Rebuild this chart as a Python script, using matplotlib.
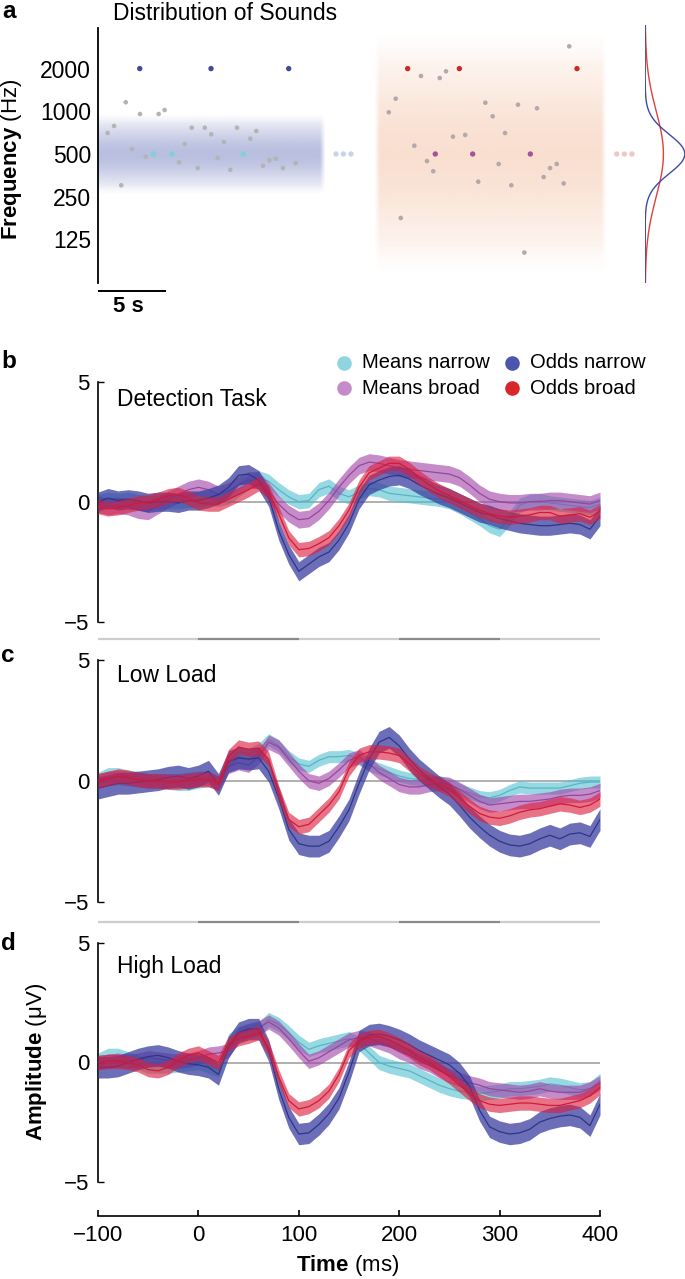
import numpy as np
import matplotlib
matplotlib.use('Agg')
import matplotlib.pyplot as plt
from matplotlib import font_manager
from matplotlib.lines import Line2D
from matplotlib.transforms import blended_transform_factory

_names = {f.name for f in font_manager.fontManager.ttflist}
FONT = 'Liberation Sans' if 'Liberation Sans' in _names else 'DejaVu Sans'
plt.rcParams['font.family'] = [FONT, 'DejaVu Sans']
plt.rcParams['mathtext.fontset'] = 'custom'
plt.rcParams['mathtext.rm'] = FONT
plt.rcParams['mathtext.bf'] = FONT + ':bold'
plt.rcParams['axes.unicode_minus'] = True

# ------------------------------------------------------------------ data
# panel a : sound sequence (time in s, frequency in Hz)
freq_ticks = [125, 250, 500, 1000, 2000]
narrow_gray_t = [0.71, 1.18, 1.71, 2.04, 2.50, 3.09, 3.51, 4.46, 4.90, 5.96, 6.38, 6.89, 7.33,
                 7.85, 8.33, 8.80, 9.26, 9.73, 10.22, 11.20, 11.64, 12.13, 12.60, 13.07, 13.60, 14.54]
narrow_gray_f = [703, 788, 301, 1158, 542, 957, 478, 957, 1021, 437, 588, 766, 398,
                 766, 688, 469, 607, 387, 766, 641, 726, 413, 452, 463, 398, 432]
narrow_odd_t = [3.07, 8.31, 14.02]
narrow_odd_f = [2000, 2000, 2000]
narrow_mean_t = [4.07, 5.44, 10.68]
narrow_mean_f = [500, 500, 500]
narrow_dots_t = [17.50, 18.04, 18.60]
broad_gray_t = [34.65, 23.75, 25.13, 25.59, 21.89, 21.38, 28.48, 30.88, 32.28, 29.02, 26.10, 27.00, 29.93,
                23.26, 24.19, 24.65, 29.46, 27.96, 30.39, 32.77, 33.24, 33.73, 34.24, 22.26, 31.35]
broad_gray_f = [2872, 1774, 1717, 1914, 1227, 984, 1150, 1113, 1050, 922, 662, 681, 703,
                572, 446, 378, 425, 319, 301, 344, 398, 425, 310, 177, 101]
broad_odd_t = [22.77, 26.57, 35.22]
broad_odd_f = [2000, 2000, 2000]
broad_mean_t = [24.80, 27.55, 31.79]
broad_mean_f = [500, 500, 500]
broad_dots_t = [38.14, 38.70, 39.26]
narrow_block = [0.0, 16.7]      # s
broad_block = [20.3, 37.43]     # s
center_freq = 500
narrow_sigma_oct = 0.46
broad_sigma_oct = 1.0

# panels b-d : ERPs
time_ms = np.arange(-100, 401, 10)
time_ticks = [-100, 0, 100, 200, 300, 400]
series_names = ['Means narrow', 'Means broad', 'Odds narrow', 'Odds broad']

det_means_narrow = [0.0, 0.1, 0.05, 0.1, 0.0, -0.05, 0.0, 0.0, 0.0, 0.05, 0.1, 0.15, 0.1, 0.2, 0.5, 0.8, 1.0,
                    0.85, 0.5, 0.2, 0.0, 0.05, 0.5, 0.65, 0.35, 0.2, 0.4, 0.55, 0.5, 0.35, 0.3, 0.25, 0.2,
                    0.15, 0.1, 0.0, -0.2, -0.45, -0.7, -1.0, -1.15, -0.7, -0.15, 0.0, 0.05, -0.05, -0.1,
                    -0.15, -0.2, -0.25, -0.1]
det_means_broad = [-0.1, -0.2, -0.15, -0.2, -0.35, -0.4, -0.15, 0.1, 0.3, 0.5, 0.6, 0.5, 0.3, 0.45, 0.7, 0.9,
                   0.9, 0.45, -0.1, -0.5, -0.75, -0.7, -0.4, 0.05, 0.6, 1.1, 1.5, 1.65, 1.6, 1.5, 1.4, 1.35,
                   1.3, 1.25, 1.2, 1.15, 1.0, 0.7, 0.35, 0.1, 0.0, -0.05, -0.05, 0.0, 0.0, 0.05, 0.05, 0.0,
                   -0.05, -0.1, 0.05]
det_odds_narrow = [0.0, 0.15, 0.05, 0.1, 0.05, -0.05, 0.0, 0.0, -0.05, 0.05, 0.05, 0.15, 0.3, 0.6, 1.1, 1.15,
                   0.9, 0.2, -1.2, -2.2, -2.9, -2.6, -2.3, -2.1, -1.6, -0.9, 0.1, 0.7, 0.9, 1.05, 1.1, 0.95,
                   0.7, 0.5, 0.3, 0.15, -0.05, -0.25, -0.45, -0.55, -0.7, -0.8, -0.9, -0.95, -1.0, -1.0,
                   -0.95, -0.9, -0.95, -1.15, -0.6]
det_odds_broad = [-0.2, -0.3, -0.25, -0.15, -0.05, 0.0, 0.1, 0.25, 0.3, 0.15, -0.05, -0.1, -0.1, 0.1, 0.3, 0.5,
                  0.75, 0.4, -0.5, -1.5, -2.0, -1.95, -1.75, -1.5, -1.0, -0.35, 0.6, 1.2, 1.4, 1.6, 1.6, 1.35,
                  1.0, 0.7, 0.45, 0.25, 0.05, -0.15, -0.35, -0.5, -0.6, -0.65, -0.6, -0.55, -0.45, -0.45,
                  -0.6, -0.55, -0.5, -0.65, -0.4]

low_means_narrow = [0.1, 0.3, 0.3, 0.2, 0.15, 0.05, 0.0, -0.1, -0.15, -0.15, -0.05, 0.0, -0.1, 0.8, 1.2, 1.1,
                    1.3, 1.7, 1.45, 1.0, 0.7, 0.6, 0.85, 1.0, 1.0, 1.05, 0.9, 0.65, 0.5, 0.35, 0.2, 0.1, 0.05,
                    0.0, -0.05, -0.15, -0.35, -0.5, -0.65, -0.7, -0.6, -0.4, -0.25, -0.3, -0.3, -0.3, -0.3,
                    -0.2, -0.1, -0.05, -0.05]
low_means_broad = [0.0, 0.1, 0.15, 0.1, 0.05, 0.0, 0.0, 0.0, 0.0, 0.05, 0.1, 0.1, -0.1, 0.6, 0.75, 0.65, 1.0,
                   1.6, 1.4, 0.9, 0.4, 0.0, -0.1, 0.1, 0.45, 0.85, 1.0, 0.7, 0.35, 0.1, -0.15, -0.25, -0.25,
                   -0.15, -0.1, -0.15, -0.35, -0.6, -0.85, -1.0, -0.95, -0.9, -0.85, -0.85, -0.8, -0.75,
                   -0.65, -0.6, -0.6, -0.55, -0.4]
low_odds_narrow = [-0.3, -0.2, -0.1, -0.1, -0.05, 0.0, 0.05, 0.15, 0.2, 0.1, 0.2, 0.4, -0.15, 0.8, 0.95, 0.9,
                   0.95, 0.4, -0.7, -2.0, -2.6, -2.7, -2.7, -2.5, -1.9, -1.2, -0.1, 0.9, 1.6, 1.8, 1.45, 0.9,
                   0.45, 0.1, -0.25, -0.55, -1.0, -1.5, -1.9, -2.25, -2.5, -2.65, -2.7, -2.6, -2.4, -2.25,
                   -2.4, -2.2, -2.15, -2.3, -1.6]
low_odds_broad = [0.0, 0.1, 0.2, 0.15, 0.05, 0.0, 0.0, -0.05, -0.05, 0.0, 0.05, 0.05, -0.1, 1.0, 1.4, 1.3,
                  1.35, 0.9, -0.5, -1.6, -1.9, -1.8, -1.4, -1.0, -0.45, 0.5, 1.05, 1.2, 1.2, 1.15, 1.05, 0.7,
                  0.3, 0.05, -0.15, -0.35, -0.7, -1.05, -1.35, -1.5, -1.55, -1.45, -1.3, -1.2, -1.15, -1.05,
                  -0.95, -1.0, -1.1, -1.0, -0.75]

high_means_narrow = [0.1, 0.3, 0.3, 0.15, 0.0, -0.15, -0.15, -0.15, -0.1, -0.05, 0.0, -0.15, -0.3, 0.9, 1.2,
                     1.3, 1.4, 1.8, 1.6, 1.25, 0.85, 0.55, 0.7, 0.8, 0.9, 1.0, 0.8, 0.4, 0.0, -0.15, -0.25,
                     -0.35, -0.55, -0.75, -0.95, -1.1, -1.2, -1.25, -1.3, -1.25, -1.2, -1.1, -1.1, -1.05, -1.0,
                     -0.9, -0.95, -1.05, -1.15, -1.1, -0.75]
high_means_broad = [0.0, 0.05, 0.1, 0.05, 0.1, 0.2, 0.15, 0.1, 0.05, 0.1, 0.2, 0.35, 0.4, 0.5, 1.2, 1.35, 1.45,
                    1.7, 1.45, 1.0, 0.5, 0.05, 0.2, 0.45, 0.7, 0.95, 1.05, 1.0, 0.85, 0.7, 0.45, 0.3, 0.05,
                    -0.1, -0.35, -0.55, -0.7, -0.85, -0.95, -1.1, -1.15, -1.2, -1.25, -1.2, -1.1, -1.2, -1.25,
                    -1.25, -1.25, -1.1, -0.85]
high_odds_narrow = [-0.2, -0.2, -0.15, 0.0, 0.15, 0.25, 0.3, 0.2, 0.05, -0.05, -0.1, -0.2, -0.5, 0.65, 1.25,
                    1.4, 1.4, 0.5, -1.1, -2.3, -3.0, -2.95, -2.6, -2.15, -1.5, -0.4, 0.9, 1.15, 1.2, 1.1, 0.95,
                    0.75, 0.5, 0.3, 0.1, -0.1, -0.45, -1.0, -2.0, -2.7, -2.9, -3.0, -2.95, -2.8, -2.5, -2.35,
                    -2.25, -2.2, -2.3, -2.65, -1.75]
high_odds_broad = [0.0, 0.05, 0.05, 0.0, -0.1, -0.3, -0.35, -0.2, 0.1, 0.3, 0.4, 0.2, 0.0, 0.8, 1.0, 1.1, 1.25,
                   0.6, -0.6, -1.6, -1.95, -1.85, -1.6, -1.2, -0.5, 0.5, 0.9, 1.05, 1.1, 0.95, 0.75, 0.5, 0.2,
                   0.0, -0.3, -0.6, -0.95, -1.3, -1.6, -1.75, -1.8, -1.75, -1.7, -1.7, -1.75, -1.8, -1.8,
                   -1.7, -1.6, -1.4, -1.05]

# half-widths of the shaded error bands (uV), per series
det_band = [0.3, 0.35, 0.4, 0.3]
low_band = [0.25, 0.3, 0.45, 0.3]
high_band = [0.3, 0.3, 0.45, 0.3]

panel_titles = ['Detection Task', 'Low Load', 'High Load']

# ------------------------------------------------------------------ style
fill_colors = ['#50c0d0', '#a040a8', '#3b3fa0', '#dc1e3c']
fill_alpha = [0.6, 0.6, 0.75, 0.62]
line_colors = ['#5ab4c4', '#94489a', '#2e3588', '#d01a3a']
legend_colors = ['#8fd5df', '#c58bc9', '#4b55ad', '#d8272a']

W, H = 685, 1279
fig = plt.figure(figsize=(W / 100, H / 100), dpi=100)


def fx(x):
    return x / W


def fy(y):
    return 1 - y / H


def rect(l, t, r, b):
    return [l / W, 1 - b / H, (r - l) / W, (b - t) / H]


# ------------------------------------------------------------------ panel a
PX_PER_S = 13.6
PX_PER_OCT = 42.7
Y500 = 154.0
mu = np.log2(center_freq)


def oct_at(ypx):
    return mu + (Y500 - ypx) / PX_PER_OCT


ax_a = fig.add_axes(rect(98, 28, 685, 283))
ax_a.set_xlim(0, (685 - 98) / PX_PER_S)
ax_a.set_ylim(oct_at(283), oct_at(28))
for s in ['top', 'right', 'bottom']:
    ax_a.spines[s].set_visible(False)
ax_a.spines['left'].set_linewidth(1.3)
ax_a.set_xticks([])
ax_a.set_yticks(np.log2(freq_ticks))
ax_a.set_yticklabels([str(f) for f in freq_ticks], fontsize=16.5)
ax_a.tick_params(axis='y', length=0, pad=5)


def gradient(ax, block, sig, trunc, rgb, peak, taper):
    nx, ny = 200, 300
    xs = np.linspace(block[0], block[1], nx)
    ys = np.linspace(mu - trunc, mu + trunc, ny)
    ay = np.exp(-(ys - mu) ** 2 / (2 * sig ** 2))
    ay *= np.clip((trunc - np.abs(ys - mu)) / (0.25 * trunc), 0, 1)
    ax_ = np.clip((xs - block[0]) / taper[0], 0, 1) if taper[0] > 0 else np.ones(nx)
    ax_ = ax_ * np.clip((block[1] - xs) / taper[1], 0, 1)
    img = np.zeros((ny, nx, 4))
    img[..., 0], img[..., 1], img[..., 2] = rgb
    img[..., 3] = peak * ay[:, None] * ax_[None, :]
    ax.imshow(img, extent=[block[0], block[1], ys[0], ys[-1]], origin='lower',
              aspect='auto', interpolation='bilinear', zorder=0)


gradient(ax_a, narrow_block, 0.5, 0.95, (80 / 255, 95 / 255, 175 / 255), 0.40, (0.0, 0.4))
gradient(ax_a, broad_block, 1.5, 2.85, (236 / 255, 150 / 255, 100 / 255), 0.30, (0.4, 0.4))

ax_a.set_xlim(0, (685 - 98) / PX_PER_S)
ax_a.set_ylim(oct_at(283), oct_at(28))

ax_a.scatter(narrow_gray_t, np.log2(narrow_gray_f), s=11, color='#b4b4b4', edgecolors='none', zorder=3)
ax_a.scatter(broad_gray_t, np.log2(broad_gray_f), s=11, color='#b3a9ad', edgecolors='none', zorder=3)
ax_a.scatter(narrow_odd_t, np.log2(narrow_odd_f), s=15, color='#3d4a9e', edgecolors='none', zorder=3)
ax_a.scatter(narrow_mean_t, np.log2(narrow_mean_f), s=15, color='#7fd0d8', edgecolors='none', zorder=3)
ax_a.scatter(broad_odd_t, np.log2(broad_odd_f), s=15, color='#cc2a22', edgecolors='none', zorder=3)
ax_a.scatter(broad_mean_t, np.log2(broad_mean_f), s=15, color='#a0559a', edgecolors='none', zorder=3)
ax_a.scatter(narrow_dots_t, np.log2([center_freq] * 3), s=15, color='#c9d3ea', edgecolors='none', zorder=3)
ax_a.scatter(broad_dots_t, np.log2([center_freq] * 3), s=15, color='#f0c6c6', edgecolors='none', zorder=3)

# 5 s scale bar
ax_a.plot([0, 5], [oct_at(291)] * 2, color='black', lw=1.4, clip_on=False,
          solid_capstyle='butt')
fig.text(fx(128), fy(307), '5 s', fontsize=16, fontweight='bold', ha='center', va='center')

# distributions
ax_dist = fig.add_axes(rect(645, 25, 686, 283))
ygrid = np.linspace(oct_at(283), oct_at(25), 400)
pdf_n = np.exp(-(ygrid - mu) ** 2 / (2 * narrow_sigma_oct ** 2)) / narrow_sigma_oct
pdf_b = np.exp(-(ygrid - mu) ** 2 / (2 * broad_sigma_oct ** 2)) / broad_sigma_oct
ax_dist.plot(pdf_b, ygrid, color='#e0403a', lw=1.0)
ax_dist.plot(pdf_n, ygrid, color='#3f4aa5', lw=1.0)
ax_dist.set_xlim(-0.01, pdf_n.max() * 1.03)
ax_dist.set_ylim(oct_at(283), oct_at(25))
ax_dist.axis('off')

fig.text(fx(113), fy(13), 'Distribution of Sounds', fontsize=16.5, ha='left', va='center')
fig.text(fx(12), fy(159), r'$\mathbf{Frequency}$ (Hz)', fontsize=16, rotation=90,
         ha='center', va='center')

# ------------------------------------------------------------------ ERP panels
panel_rects = [(98, 381.7, 600, 621.7), (98, 660, 600, 901.7), (98, 943.3, 600, 1181.7)]
panel_data = [
    [det_means_narrow, det_means_broad, det_odds_narrow, det_odds_broad],
    [low_means_narrow, low_means_broad, low_odds_narrow, low_odds_broad],
    [high_means_narrow, high_means_broad, high_odds_narrow, high_odds_broad],
]
panel_bands = [det_band, low_band, high_band]
title_y = [400, 675, 966]
letter_y = [362, 656, 943]
sep_y = [639, 921.5]

axes = []
for k in range(3):
    l, t, r, b = panel_rects[k]
    ax = fig.add_axes(rect(l, t, r, b))
    axes.append(ax)
    ax.axhline(0, color='#9a9a9a', lw=1.1, zorder=0.5)
    for i in range(4):
        v = np.array(panel_data[k][i])
        hw = panel_bands[k][i]
        ax.fill_between(time_ms, v - hw, v + hw, color=fill_colors[i], alpha=fill_alpha[i],
                        lw=0, zorder=1 + i)
        ax.plot(time_ms, v, color=line_colors[i], lw=0.9, zorder=1.5 + i)
    ax.set_xlim(-100, 400)
    ax.set_ylim(-5, 5)
    for s in ['top', 'right', 'bottom']:
        ax.spines[s].set_visible(False)
    ax.spines['left'].set_linewidth(1.2)
    ax.set_yticks([-5, 0, 5])
    ax.tick_params(axis='y', direction='in', length=4, width=1, labelsize=16, pad=6)
    ax.set_xticks([])
    fig.text(fx(117), fy(title_y[k]), panel_titles[k], fontsize=16.5, ha='left', va='center')

for k, label in enumerate(['b', 'c', 'd']):
    fig.text(fx(1), fy(letter_y[k]), label, fontsize=17.5, fontweight='bold', ha='left', va='center')
fig.text(fx(2), fy(18), 'a', fontsize=17.5, fontweight='bold', ha='left', va='baseline')

# time-bar separators
for k, ysep in enumerate(sep_y):
    trans = blended_transform_factory(axes[k].transData, fig.transFigure)
    for j in range(len(time_ticks) - 1):
        c = '#8a8a8a' if j % 2 == 1 else '#cdcdcd'
        axes[k].plot([time_ticks[j], time_ticks[j + 1]], [fy(ysep)] * 2, color=c, lw=1.6,
                     transform=trans, clip_on=False, solid_capstyle='butt')

# bottom axis on panel d
axd = axes[2]
axd.spines['bottom'].set_visible(True)
axd.spines['bottom'].set_position(('outward', 25))
axd.spines['bottom'].set_bounds(-100, 400)
axd.spines['bottom'].set_linewidth(1.2)
axd.set_xticks(time_ticks)
axd.set_xticklabels([str(t).replace('-', '\u2212') for t in time_ticks])
axd.tick_params(axis='x', direction='in', length=4, width=1.2, labelsize=16, pad=6)

fig.text(fx(348), fy(1265), r'$\mathbf{Time}$ (ms)', fontsize=16, ha='center', va='center')
fig.text(fx(37), fy(1062), r'$\mathbf{Amplitude}$ (' + '\u03bc' + 'V)',
         fontsize=16, rotation=90, ha='center', va='center')

# legend
leg_x = [344, 512]
leg_y = [362.7, 388.3]
for i, name in enumerate(series_names):
    col = 0 if name.startswith('Means') else 1
    row = 0 if name.endswith('narrow') else 1
    fig.add_artist(Line2D([fx(leg_x[col])], [fy(leg_y[row])], marker='o', markersize=10.5,
                          color=legend_colors[i], markeredgewidth=0, linestyle='none',
                          transform=fig.transFigure))
    fig.text(fx(leg_x[col] + 18), fy(leg_y[row]), name, fontsize=14.5, ha='left', va='center')

fig.savefig('out.png', dpi=100)
